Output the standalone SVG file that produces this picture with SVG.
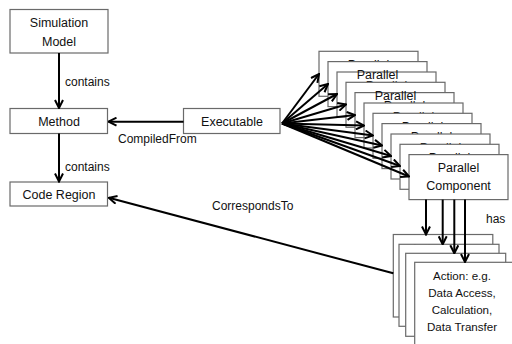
<svg xmlns="http://www.w3.org/2000/svg" width="512" height="344" viewBox="0 0 512 344">
  <style>
    .box { fill: #ffffff; stroke: #6a6a6a; stroke-width: 1.2; }
    .t { font-family: "Liberation Sans", Arial, sans-serif; font-size: 12.5px; fill: #111; text-anchor: middle; }
    .ta { font-family: "Liberation Sans", Arial, sans-serif; font-size: 11.6px; fill: #111; text-anchor: middle; }
    .lbl { font-family: "Liberation Sans", Arial, sans-serif; font-size: 12px; fill: #111; }
    .edge { stroke: #000; stroke-width: 2; fill: none; marker-end: url(#arr); }
  </style>
  <defs>
    <marker id="arr" viewBox="0 0 10 10" refX="9" refY="5" markerWidth="5" markerHeight="5" orient="auto" markerUnits="strokeWidth">
      <path d="M1,1 L9,5 L1,9" fill="none" stroke="#000" stroke-width="2"/>
    </marker>
  </defs>
  <rect width="512" height="344" fill="#ffffff"/>

  <!-- left column -->
  <g id="simulation-model">
    <rect class="box" x="10" y="9.5" width="98" height="43.5"/>
    <text class="t" x="59" y="27">Simulation</text>
    <text class="t" x="59" y="46">Model</text>
  </g>
  <g id="method">
    <rect class="box" x="10" y="108.5" width="97.5" height="25"/>
    <text class="t" x="59" y="125.5">Method</text>
  </g>
  <g id="code-region">
    <rect class="box" x="10" y="182" width="97.5" height="24"/>
    <text class="t" x="59" y="198.5">Code Region</text>
  </g>
  <g id="executable">
    <rect class="box" x="183.5" y="108.5" width="96.5" height="25"/>
    <text class="t" x="232" y="126">Executable</text>
  </g>

  <!-- parallel components stack: each card covers the lower part of the one before -->
  <g id="pc-0"><rect class="box" x="319" y="51.3" width="99" height="45"/><text class="t" x="368.5" y="69">Parallel</text></g>
  <g id="pc-1"><rect class="box" x="328" y="61.6" width="99" height="45"/></g>
  <g id="pc-2"><rect class="box" x="337" y="72" width="99" height="45"/><text class="t" x="386.5" y="89.7">Parallel</text></g>
  <g id="pc-1-title"><text class="t" x="377.5" y="79.3">Parallel</text></g>
  <g id="pc-3"><rect class="box" x="346" y="82.3" width="99" height="45"/></g>
  <g id="pc-4"><rect class="box" x="355" y="92.6" width="99" height="45"/><text class="t" x="404.5" y="110.3">Parallel</text></g>
  <g id="pc-3-title"><text class="t" x="395.5" y="100">Parallel</text></g>
  <g id="pc-5"><rect class="box" x="364" y="103" width="99" height="45"/><text class="t" x="413.5" y="120.7">Parallel</text></g>
  <g id="pc-6"><rect class="box" x="373" y="113.3" width="99" height="45"/><text class="t" x="422.5" y="131">Parallel</text></g>
  <g id="pc-7"><rect class="box" x="382" y="123.6" width="99" height="45"/><text class="t" x="431.5" y="141.3">Parallel</text></g>
  <g id="pc-8"><rect class="box" x="391" y="134" width="99" height="45"/><text class="t" x="440.5" y="151.7">Parallel</text></g>
  <g id="pc-9"><rect class="box" x="400" y="144.3" width="99" height="45"/><text class="t" x="449.5" y="162">Parallel</text></g>
  <g id="pc-10"><rect class="box" x="409" y="154.6" width="99" height="45"/><text class="t" x="458.5" y="172.3">Parallel</text><text class="t" x="458.5" y="190.3">Component</text></g>

  <!-- action stack -->
  <g id="action-0"><rect class="box" x="393.3" y="234.5" width="99.5" height="82.5"/><text class="ta" x="440" y="252">Action: e.g.</text></g>
  <g id="action-1"><rect class="box" x="399" y="244.3" width="100" height="82"/><text class="ta" x="447" y="261.5">Action: e.g.</text></g>
  <g id="action-2"><rect class="box" x="405.7" y="253.3" width="100" height="83"/><text class="ta" x="454" y="270.5">Action: e.g.</text></g>
  <g id="action-3">
    <rect class="box" x="414.7" y="262.3" width="100" height="90"/>
    <text class="ta" x="462" y="280">Action: e.g.</text>
    <text class="ta" x="462" y="297">Data Access,</text>
    <text class="ta" x="462" y="314">Calculation,</text>
    <text class="ta" x="462" y="331">Data Transfer</text>
  </g>

  <!-- connectors -->
  <g id="connectors">
    <line class="edge" x1="59" y1="53" x2="59" y2="108"/>
    <line class="edge" x1="59" y1="133.5" x2="59" y2="181.5"/>
    <line class="edge" x1="183.5" y1="121.7" x2="108.5" y2="121.7"/>
    <line class="edge" x1="393.3" y1="273.3" x2="108.8" y2="197.8"/>
    <line class="edge" x1="282" y1="123.5" x2="319" y2="74"/>
    <line class="edge" x1="282" y1="123.5" x2="328" y2="84"/>
    <line class="edge" x1="282" y1="123.5" x2="337" y2="94"/>
    <line class="edge" x1="282" y1="123.5" x2="346" y2="104.5"/>
    <line class="edge" x1="282" y1="123.5" x2="355" y2="115"/>
    <line class="edge" x1="282" y1="123.5" x2="364" y2="125.5"/>
    <line class="edge" x1="282" y1="123.5" x2="373" y2="135.5"/>
    <line class="edge" x1="282" y1="123.5" x2="382" y2="145.5"/>
    <line class="edge" x1="282" y1="123.5" x2="391" y2="156"/>
    <line class="edge" x1="282" y1="123.5" x2="400" y2="166"/>
    <line class="edge" x1="282" y1="123.5" x2="409" y2="176.5"/>
    <line class="edge" x1="426" y1="199.6" x2="426" y2="234.5"/>
    <line class="edge" x1="442.7" y1="199.6" x2="442.7" y2="244.3"/>
    <line class="edge" x1="454.3" y1="199.6" x2="454.3" y2="253.3"/>
    <line class="edge" x1="465" y1="199.6" x2="465" y2="262"/>
    <text class="lbl" x="65" y="86">contains</text>
    <text class="lbl" x="65" y="171">contains</text>
    <text class="lbl" x="118" y="142.5">CompiledFrom</text>
    <text class="lbl" x="212" y="209.5">CorrespondsTo</text>
    <text class="lbl" x="486" y="222.5">has</text>
  </g>
</svg>
